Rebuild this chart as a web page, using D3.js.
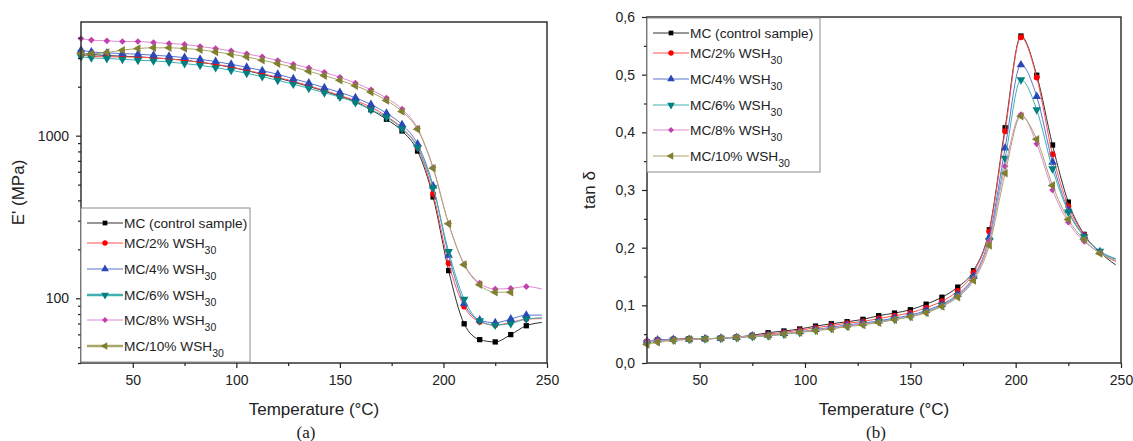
<!DOCTYPE html>
<html>
<head>
<meta charset="utf-8">
<script src="https://cdn.jsdelivr.net/npm/d3@7"></script>
<style>
  body { margin: 0; background: #fff; }
  text { font-family: "Liberation Sans", Arial, sans-serif; fill: #222; }
</style>
</head>
<body>
<script>
const W = 1133, H = 441;

// temperature of each recorded point (°C)
const temps = [25, 30, 37.5, 45, 52.5, 60, 67.5, 75, 82.5, 90, 97.5, 105, 112.5, 120, 127.5,
  135, 142.5, 150, 157.5, 165, 172.5, 180, 187.5, 195, 202.5, 210, 217.5, 225, 232.5, 240, 247.5];

const seriesNames = ["MC (control sample)", "MC/2% WSH", "MC/4% WSH", "MC/6% WSH", "MC/8% WSH", "MC/10% WSH"];
const seriesSub = ["", "30", "30", "30", "30", "30"];

// storage modulus E' (MPa)
const eMC  = [3200, 3155, 3110, 3080, 3053, 3010, 2965, 2910, 2830, 2735, 2634, 2512, 2385, 2263, 2138, 2009, 1880, 1750, 1620, 1442, 1262, 1069, 804, 420, 148, 69.7, 55.7, 53.9, 59.8, 67.8, 71];
const e2   = [3125, 3080, 3053, 3053, 3040, 3010, 2965, 2900, 2830, 2750, 2648, 2525, 2405, 2284, 2160, 2028, 1898, 1767, 1645, 1496, 1317, 1115, 847, 440, 164, 89, 71.8, 68.4, 71, 74.5, 75];
const e4   = [3357, 3276, 3228, 3198, 3170, 3125, 3080, 3022, 2950, 2855, 2750, 2634, 2512, 2385, 2242, 2108, 1973, 1846, 1710, 1555, 1374, 1169, 888, 491, 184, 93, 73.5, 70.7, 74.5, 78.8, 78.8];
const e6   = [3053, 3010, 2980, 2950, 2910, 2882, 2840, 2775, 2710, 2620, 2525, 2420, 2306, 2190, 2075, 1954, 1837, 1726, 1600, 1442, 1298, 1100, 847, 479, 194, 98.7, 72.8, 68.4, 70, 74.5, 75.9];
const e8   = [3960, 3870, 3830, 3795, 3795, 3740, 3690, 3640, 3535, 3435, 3325, 3185, 3053, 2900, 2750, 2610, 2452, 2285, 2108, 1916, 1702, 1455, 1110, 637, 288, 162, 124, 114, 115, 118, 114];
const e10  = [3200, 3185, 3245, 3355, 3435, 3470, 3470, 3435, 3375, 3275, 3170, 3053, 2910, 2775, 2634, 2490, 2340, 2190, 2028, 1853, 1645, 1407, 1094, 631, 287, 161, 121, 109, 109];

// loss factor tan δ
const tMC = [0.037, 0.040, 0.041, 0.042, 0.042, 0.043, 0.045, 0.048, 0.0525, 0.0555, 0.059, 0.064, 0.068, 0.0716, 0.0757, 0.082, 0.0866, 0.0923, 0.102, 0.114, 0.1316, 0.160, 0.231, 0.408, 0.567, 0.499, 0.378, 0.279, 0.223, 0.192, 0.170];
const t2  = [0.037, 0.040, 0.041, 0.042, 0.042, 0.043, 0.045, 0.047, 0.050, 0.053, 0.057, 0.061, 0.065, 0.069, 0.072, 0.077, 0.082, 0.087, 0.096, 0.107, 0.125, 0.157, 0.228, 0.402, 0.565, 0.495, 0.362, 0.272, 0.222, 0.192, 0.176];
const t4  = [0.038, 0.040, 0.041, 0.041, 0.042, 0.043, 0.044, 0.047, 0.048, 0.051, 0.054, 0.058, 0.062, 0.066, 0.069, 0.073, 0.078, 0.083, 0.091, 0.102, 0.119, 0.150, 0.218, 0.373, 0.517, 0.462, 0.348, 0.265, 0.220, 0.193, 0.180];
const t6  = [0.035, 0.038, 0.040, 0.041, 0.042, 0.043, 0.044, 0.046, 0.047, 0.050, 0.053, 0.057, 0.060, 0.064, 0.068, 0.072, 0.076, 0.081, 0.089, 0.100, 0.117, 0.147, 0.213, 0.355, 0.491, 0.439, 0.337, 0.262, 0.219, 0.194, 0.181];
const t8  = [0.038, 0.039, 0.040, 0.041, 0.042, 0.043, 0.045, 0.047, 0.048, 0.051, 0.054, 0.057, 0.061, 0.065, 0.068, 0.071, 0.076, 0.081, 0.088, 0.099, 0.116, 0.146, 0.212, 0.341, 0.431, 0.380, 0.300, 0.244, 0.211, 0.191, 0.177];
const t10 = [0.032, 0.036, 0.039, 0.041, 0.042, 0.043, 0.044, 0.046, 0.047, 0.050, 0.053, 0.056, 0.059, 0.063, 0.066, 0.070, 0.075, 0.080, 0.087, 0.098, 0.114, 0.143, 0.204, 0.329, 0.428, 0.388, 0.308, 0.249, 0.214, 0.190, 0.178];

const xTicks = [50, 100, 150, 200, 250];
const xMinor = [75, 125, 175, 225];
const eTicks = [100, 1000];
const tTicks = [0, 0.1, 0.2, 0.3, 0.4, 0.5, 0.6];
const tMinor = [0.05, 0.15, 0.25, 0.35, 0.45, 0.55];

const markerColors = ["#000000", "#ff0000", "#2a48b8", "#008080", "#c040b0", "#808030"];
const lineColors   = ["#303030", "#ff5050", "#5a74d0", "#40b0b0", "#e088d4", "#a8a868"];
const symbols = [
  {type: d3.symbolSquare, size: 28, rot: 0},
  {type: d3.symbolCircle, size: 28, rot: 0},
  {type: d3.symbolTriangle, size: 32, rot: 0},
  {type: d3.symbolTriangle, size: 32, rot: 180},
  {type: d3.symbolSquare, size: 22, rot: 45},
  {type: d3.symbolTriangle, size: 32, rot: -90}
];

const svg = d3.select("body").append("svg")
    .attr("width", W)
    .attr("height", H);

function drawPanel(p) {
  const g = svg.append("g");
  const x = d3.scaleLinear().domain([25, 250]).range([p.left, p.right]);
  const y = p.y;

  const line = d3.line()
      .x(d => x(d[0]))
      .y(d => y(d[1]))
      .curve(d3.curveMonotoneX);

  p.series.forEach((vals, s) => {
    const pts = vals.map((v, i) => [temps[i], v]);
    g.append("path")
        .attr("d", line(pts))
        .attr("fill", "none")
        .attr("stroke", lineColors[s])
        .attr("stroke-width", 1);
    const sym = d3.symbol().type(symbols[s].type).size(symbols[s].size);
    g.selectAll(null)
        .data(pts.filter((d, i) => i < temps.length - 1))
        .enter().append("path")
        .attr("d", sym)
        .attr("transform", d => `translate(${x(d[0])},${y(d[1])}) rotate(${symbols[s].rot})`)
        .attr("fill", markerColors[s]);
  });

  // frame
  g.append("rect")
      .attr("x", p.left).attr("y", p.top)
      .attr("width", p.right - p.left).attr("height", p.bottom - p.top)
      .attr("fill", "none").attr("stroke", "#333").attr("stroke-width", 1.5);

  // x axis
  g.append("g").attr("transform", `translate(0,${p.bottom})`)
      .call(d3.axisBottom(x).tickValues(xTicks).tickSize(5).tickPadding(7).tickFormat(d3.format("d")));
  g.append("g").attr("transform", `translate(0,${p.bottom})`)
      .call(d3.axisBottom(x).tickValues(xMinor).tickSize(3).tickFormat(""));

  // y axis
  g.append("g").attr("transform", `translate(${p.left},0)`)
      .call(d3.axisLeft(y).tickValues(p.yTicks).tickSize(5).tickPadding(7).tickFormat(p.yFormat));
  g.append("g").attr("transform", `translate(${p.left},0)`)
      .call(d3.axisLeft(y).tickValues(p.yMinor).tickSize(3).tickFormat(""));

  g.selectAll(".domain").remove();
  g.selectAll(".tick line").attr("stroke", "#222").attr("stroke-width", 1.2);
  g.selectAll(".tick text").style("font-size", "14px").attr("fill", "#222")
      .style("font-family", '"Liberation Sans", Arial, sans-serif');

  // axis titles
  g.append("text")
      .attr("x", (p.left + p.right) / 2).attr("y", 415)
      .attr("text-anchor", "middle").style("font-size", "17px")
      .text("Temperature (°C)");
  g.append("text")
      .attr("transform", `translate(${p.yTitleX},${(p.top + p.bottom) / 2}) rotate(-90)`)
      .attr("text-anchor", "middle").style("font-size", "17px")
      .text(p.yTitle);
  g.append("text")
      .attr("x", p.captionX).attr("y", 438)
      .attr("text-anchor", "middle")
      .style("font-family", '"Liberation Serif", "Times New Roman", serif')
      .style("font-size", "17px")
      .text(p.caption);

  // legend
  const lg = g.append("g").attr("transform", `translate(${p.left},${p.legTop})`);
  lg.append("rect")
      .attr("x", 0).attr("y", 0)
      .attr("width", p.legW).attr("height", 154)
      .attr("fill", "#fff").attr("stroke", "#8a8a8a").attr("stroke-width", 1);
  const rowY = [15, 35, 61, 87, 112, 138];
  seriesNames.forEach((name, s) => {
    const row = lg.append("g").attr("transform", `translate(0,${rowY[s]})`);
    row.append("line")
        .attr("x1", 6).attr("x2", 42)
        .attr("stroke", lineColors[s]).attr("stroke-width", p.legLineW[s]);
    row.append("path")
        .attr("d", d3.symbol().type(symbols[s].type).size(symbols[s].size * 0.8)())
        .attr("transform", `translate(24,0) rotate(${symbols[s].rot})`)
        .attr("fill", markerColors[s]);
    const t = row.append("text")
        .attr("x", 43).attr("y", 5)
        .style("font-size", "13.7px");
    t.append("tspan").text(name);
    if (seriesSub[s]) {
      t.append("tspan").attr("dy", 6).style("font-size", "10.5px").text(seriesSub[s]);
    }
  });
}

drawPanel({
  left: 81, right: 547, top: 22, bottom: 363,
  y: d3.scaleLog().domain([40, 5000]).range([363, 22]),
  yTicks: eTicks,
  yMinor: [40, 50, 60, 70, 80, 90, 200, 300, 400, 500, 600, 700, 800, 900, 2000, 3000, 4000],
  yFormat: d3.format("d"),
  yTitle: "E' (MPa)", yTitleX: 24,
  caption: "(a)", captionX: 306,
  series: [eMC, e2, e4, e6, e8, e10],
  legTop: 208, legW: 169,
  legLineW: [1, 1, 1, 2.5, 1, 2.5]
});

drawPanel({
  left: 647, right: 1121, top: 17, bottom: 363,
  y: d3.scaleLinear().domain([0, 0.6]).range([363, 17]),
  yTicks: tTicks,
  yMinor: tMinor,
  yFormat: d => d.toFixed(1).replace(".", ","),
  yTitle: "tan δ", yTitleX: 595,
  caption: "(b)", captionX: 876,
  series: [tMC, t2, t4, t6, t8, t10],
  legTop: 18, legW: 173,
  legLineW: [1, 1, 1, 1, 1, 1]
});
</script>
</body>
</html>
